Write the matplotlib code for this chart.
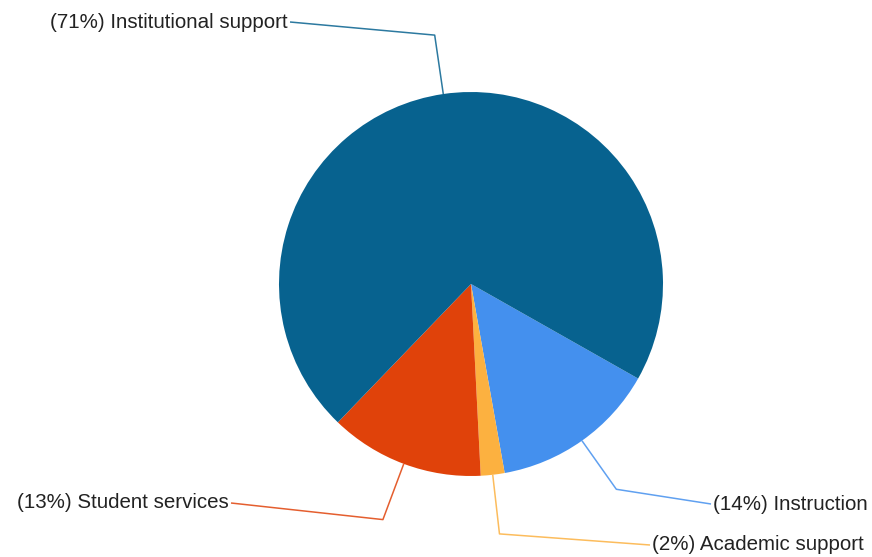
import numpy as np
import matplotlib
matplotlib.use('Agg')
import matplotlib.pyplot as plt

# values (percent of total), in clockwise drawing order
categories = ['Instruction', 'Academic support', 'Student services', 'Institutional support']
shares = [14, 2, 13, 71]
colors = ['#4490EE', '#FCB140', '#E0420A', '#07628F']

# label anchor points (pixels from top-left) and alignment
label_pos = {
    'Instruction': (711, 504, 'left'),
    'Academic support': (650, 545, 'left'),
    'Student services': (231, 503, 'right'),
    'Institutional support': (290, 22, 'right'),
}

W, H = 872, 557
cx, cy, R = 471, 284, 192
start = -29.5

fig = plt.figure(figsize=(W / 100, H / 100), dpi=100)
ax = fig.add_axes([0, 0, 1, 1])

wedges, _ = ax.pie(shares, colors=colors, startangle=start, counterclock=False,
                   center=(cx, H - cy), radius=R, frame=True,
                   wedgeprops=dict(linewidth=0))
ax.set_xlim(0, W)
ax.set_ylim(0, H)
ax.set_aspect('equal')
ax.axis('off')

# leader lines: from the wedge middle, out to a knee, then to the label
for w, name, pct, col in zip(wedges, categories, shares, colors):
    mid = np.deg2rad((w.theta1 + w.theta2) / 2)
    x0, y0 = cx + R * np.cos(mid), H - cy + R * np.sin(mid)
    x1, y1 = cx + 1.31 * R * np.cos(mid), H - cy + 1.31 * R * np.sin(mid)
    tx, ty, ha = label_pos[name]
    ty = H - ty
    ax.plot([x0, x1, tx], [y0, y1, ty], color=col, lw=1.1, alpha=0.85, solid_capstyle='butt')
    ax.text(tx + (2 if ha == 'left' else -2), ty, f'({pct}%) {name}', ha=ha, va='center',
            fontsize=14.8, family='Liberation Sans', color='#222222')

fig.savefig('out.png', dpi=100, facecolor='white')
